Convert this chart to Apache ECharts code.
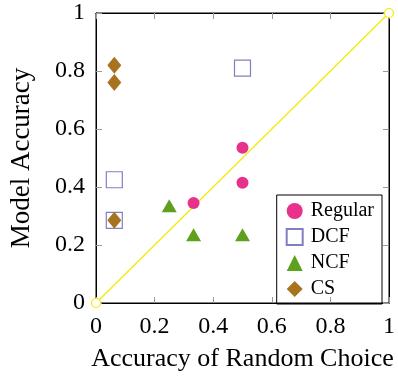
<!DOCTYPE html>
<html><head><meta charset="utf-8">
<script src="https://cdn.jsdelivr.net/npm/echarts@6/dist/echarts.min.js"></script>
<style>html,body{margin:0;padding:0;background:#fff}#c{width:398px;height:377px}</style>
</head><body><div id="c"></div>
<script>
const xTicks = [0, 0.2, 0.4, 0.6, 0.8, 1];
const regular = [[0.333, 0.345], [0.5, 0.535], [0.5, 0.415]];
const dcf = [[0.5, 0.81], [0.0625, 0.425], [0.0625, 0.285]];
const ncf = [[0.25, 0.335], [0.333, 0.235], [0.5, 0.235]];
const cs = [[0.0625, 0.82], [0.0625, 0.76], [0.0625, 0.285]];
const diag = [[0, 0], [1, 1]];

const F = 'Liberation Serif';
const chart = echarts.init(document.getElementById('c'));
const tickStyle = {show: true, inside: true, length: 6, lineStyle: {color: '#999', width: 1}};
const lineStyle = {show: true, onZero: false, lineStyle: {color: '#000', width: 1}};
const fmt = v => String(+v.toFixed(1));
chart.setOption({
  animation: false,
  grid: {left: 95, right: 6, top: 13, bottom: 71, show: true, borderColor: '#000', borderWidth: 1},
  xAxis: [
    {type: 'value', min: 0, max: 1, interval: 0.2, position: 'bottom',
     name: 'Accuracy of Random Choice', nameLocation: 'middle', nameGap: 43,
     nameTextStyle: {fontFamily: F, fontSize: 26, color: '#000'},
     axisLine: lineStyle, axisTick: tickStyle, splitLine: {show: false},
     axisLabel: {fontFamily: F, fontSize: 24, color: '#000', margin: 12, formatter: fmt}},
    {type: 'value', min: 0, max: 1, interval: 0.2, position: 'top',
     axisLine: lineStyle, axisTick: tickStyle, splitLine: {show: false}, axisLabel: {show: false}}
  ],
  yAxis: [
    {type: 'value', min: 0, max: 1, interval: 0.2, position: 'left',
     name: 'Model Accuracy', nameLocation: 'middle', nameGap: 61,
     nameTextStyle: {fontFamily: F, fontSize: 27, color: '#000'},
     axisLine: lineStyle, axisTick: tickStyle, splitLine: {show: false},
     axisLabel: {fontFamily: F, fontSize: 24, color: '#000', margin: 11, formatter: fmt}},
    {type: 'value', min: 0, max: 1, interval: 0.2, position: 'right',
     axisLine: lineStyle, axisTick: tickStyle, splitLine: {show: false}, axisLabel: {show: false}}
  ],
  legend: {
    orient: 'vertical', right: 16, bottom: 73,
    data: ['Regular', 'DCF', 'NCF', 'CS'],
    borderColor: '#000', borderWidth: 1, borderRadius: 0,
    padding: [6, 8, 5, 9], itemGap: 6, itemWidth: 16, itemHeight: 16,
    textStyle: {fontFamily: F, fontSize: 20, color: '#000', padding: [0, 0, 0, 3]}
  },
  series: [
    {name: 'diag', type: 'line', data: diag, xAxisIndex: 1, yAxisIndex: 1,
     symbol: 'circle', symbolSize: 9,
     showSymbol: true, lineStyle: {color: '#f3ea00', width: 1.2},
     itemStyle: {color: '#fff', borderColor: '#f3ea00', borderWidth: 1.2}, z: 1},
    {name: 'Regular', type: 'scatter', data: regular, symbol: 'circle', symbolSize: 12,
     itemStyle: {color: '#e8318a', opacity: 1}},
    {name: 'DCF', type: 'scatter', data: dcf, symbol: 'rect', symbolSize: 16,
     itemStyle: {color: 'rgba(255,255,255,0)', borderColor: '#8080c0', borderWidth: 1.2, opacity: 1}},
    {name: 'NCF', type: 'scatter', data: ncf, symbol: 'triangle', symbolSize: [15, 13],
     itemStyle: {color: '#5fa11f', opacity: 1}},
    {name: 'CS', type: 'scatter', data: cs, symbol: 'diamond', symbolSize: [14, 17],
     itemStyle: {color: '#a8731f', opacity: 1}}
  ]
});
</script></body></html>
